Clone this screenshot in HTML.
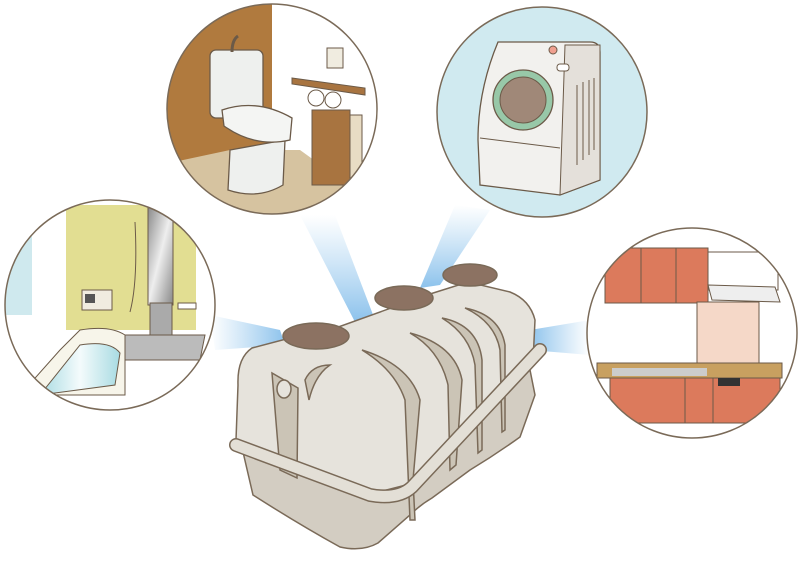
<!DOCTYPE html>
<html><head><meta charset="utf-8"><style>html,body{margin:0;padding:0;background:#fff}svg{display:block}</style></head>
<body>
<svg width="800" height="561" viewBox="0 0 800 561" xmlns="http://www.w3.org/2000/svg">
<defs>
<linearGradient id="b1" x1="0" y1="0" x2="1" y2="0"><stop offset="0" stop-color="#9ccbee" stop-opacity="0"/><stop offset="1" stop-color="#8cc2ec"/></linearGradient>
<linearGradient id="b2" x1="0" y1="0" x2="0" y2="1"><stop offset="0" stop-color="#9ccbee" stop-opacity="0"/><stop offset="1" stop-color="#8cc2ec"/></linearGradient>
<linearGradient id="b3" x1="1" y1="0" x2="0" y2="0"><stop offset="0" stop-color="#9ccbee" stop-opacity="0"/><stop offset="1" stop-color="#8cc2ec"/></linearGradient>
<linearGradient id="tub" x1="0" y1="0" x2="1" y2="0"><stop offset="0" stop-color="#a8dbe2"/><stop offset="0.5" stop-color="#f4fbfc"/><stop offset="1" stop-color="#a8dbe2"/></linearGradient>
<linearGradient id="mir" x1="0" y1="0" x2="1" y2="1"><stop offset="0" stop-color="#888"/><stop offset="0.5" stop-color="#eee"/><stop offset="1" stop-color="#888"/></linearGradient>
<clipPath id="cT"><circle cx="272" cy="109" r="105"/></clipPath>
<clipPath id="cB"><circle cx="110" cy="305" r="105"/></clipPath>
<clipPath id="cK"><circle cx="692" cy="333" r="105"/></clipPath>
</defs>
<polygon points="210,315 215,350 285,345 280,330" fill="url(#b1)"/>
<polygon points="300,215 335,215 375,320 355,322" fill="url(#b2)"/>
<polygon points="455,205 490,210 440,285 420,288" fill="url(#b2)"/>
<polygon points="590,320 590,355 530,350 530,330" fill="url(#b3)"/>

<g clip-path="url(#cT)">
<rect x="160" y="0" width="230" height="220" fill="#fff"/>
<rect x="160" y="0" width="112" height="170" fill="#b07a3e"/>
<polygon points="160,165 230,150 300,150 390,215 160,220" fill="#d6c3a0"/>
<polygon points="272,0 272,150 240,158" fill="#b07a3e"/>
<rect x="210" y="50" width="53" height="68" rx="6" fill="#eef0ee" stroke="#6b5a48" stroke-width="1.3"/>
<path d="M232 52 q0-12 6-16" stroke="#6b5a48" stroke-width="3" fill="none"/>
<path d="M230 150 L228 190 q30 10 55 -5 L285 140 Z" fill="#eef0ee" stroke="#6b5a48" stroke-width="1.3"/>
<path d="M222 110 q35-12 70 8 l-2 22 q-35 8 -66 -14 z" fill="#f4f5f3" stroke="#6b5a48" stroke-width="1.3"/>
<rect x="327" y="48" width="16" height="20" fill="#f0ece0" stroke="#6b5a48"/>
<polygon points="292,78 365,88 365,95 292,84" fill="#a87440" stroke="#6b5a48"/>
<circle cx="316" cy="98" r="8" fill="#fff" stroke="#6b5a48"/><circle cx="333" cy="100" r="8" fill="#fff" stroke="#6b5a48"/>
<rect x="312" y="110" width="38" height="75" fill="#a87440" stroke="#6b5a48"/>
<rect x="350" y="115" width="12" height="65" fill="#e8dcc4" stroke="#6b5a48"/>
</g>
<circle cx="272" cy="109" r="105" fill="none" stroke="#7a6a58" stroke-width="1.5"/>

<circle cx="542" cy="112" r="105" fill="#d0eaf0" stroke="#7a6a58" stroke-width="1.5"/>
<path d="M498 42 L590 42 q10 0 10 10 L600 180 L560 195 L480 185 L478 140 q0-50 20-98 z" fill="#f2f1ee" stroke="#6b5a48" stroke-width="1.3"/>
<path d="M565 45 L600 45 L600 180 L560 195 Z" fill="#e4e0da" stroke="#6b5a48" stroke-width="1"/>
<line x1="480" y1="138" x2="560" y2="148" stroke="#6b5a48"/>
<circle cx="523" cy="100" r="30" fill="#98c8a8" stroke="#6b5a48" stroke-width="1.3"/>
<circle cx="523" cy="100" r="23" fill="#a08878" stroke="#6b5a48"/>
<circle cx="553" cy="50" r="4" fill="#f0a090" stroke="#6b5a48"/>
<rect x="557" y="64" width="12" height="7" rx="3" fill="#fff" stroke="#6b5a48"/>
<g stroke="#6b5a48"><line x1="577" y1="85" x2="577" y2="165"/><line x1="583" y1="82" x2="583" y2="160"/><line x1="589" y1="80" x2="589" y2="155"/><line x1="594" y1="78" x2="594" y2="150"/></g>

<g clip-path="url(#cB)">
<rect x="0" y="195" width="220" height="220" fill="#fff"/>
<rect x="66" y="205" width="130" height="125" fill="#e2de92"/>
<rect x="148" y="205" width="25" height="100" fill="url(#mir)" stroke="#6b5a48"/>
<rect x="150" y="303" width="22" height="33" fill="#aaa" stroke="#6b5a48"/>
<rect x="82" y="290" width="30" height="20" fill="#f0ece0" stroke="#6b5a48"/>
<rect x="85" y="294" width="10" height="9" fill="#555"/>
<rect x="178" y="303" width="18" height="6" fill="#fff" stroke="#6b5a48"/>
<rect x="0" y="230" width="32" height="85" fill="#cfe9ee"/>
<polygon points="125,335 205,335 200,360 125,360" fill="#bbb" stroke="#6b5a48"/>
<path d="M20 395 L60 350 L80 330 q30-5 45 5 L125 395 Z" fill="#f7f5ea" stroke="#6b5a48"/>
<path d="M40 395 L80 345 q30-5 40 8 L115 385 Z" fill="url(#tub)" stroke="#6b5a48"/>
<path d="M135 222 q3 60 -5 90" stroke="#6b5a48" fill="none"/>
</g>
<circle cx="110" cy="305" r="105" fill="none" stroke="#7a6a58" stroke-width="1.5"/>

<g clip-path="url(#cK)">
<rect x="580" y="225" width="220" height="220" fill="#fff"/>
<g fill="#dc7a5c" stroke="#6b5a48"><rect x="605" y="248" width="36" height="55"/><rect x="641" y="248" width="35" height="55"/><rect x="676" y="248" width="32" height="55"/></g>
<rect x="708" y="252" width="70" height="38" fill="#fff" stroke="#6b5a48"/>
<polygon points="708,285 775,287 780,302 712,300" fill="#eee" stroke="#6b5a48"/>
<rect x="697" y="302" width="62" height="63" fill="#f5d8c8" stroke="#6b5a48"/>
<rect x="597" y="363" width="185" height="15" fill="#c8a060" stroke="#6b5a48"/>
<rect x="612" y="368" width="95" height="8" fill="#ccc"/>
<g fill="#dc7a5c" stroke="#6b5a48"><rect x="610" y="378" width="75" height="45"/><rect x="685" y="378" width="28" height="45"/><rect x="713" y="378" width="67" height="45"/></g>
<rect x="718" y="378" width="22" height="8" fill="#333"/>
</g>
<circle cx="692" cy="333" r="105" fill="none" stroke="#7a6a58" stroke-width="1.5"/>

<g stroke="#7a6a58" stroke-width="1.5">
<path d="M243 452 L253 495 Q300 525 340 547 Q362 552 378 543 L410 515 Q420 505 432 498 L470 470 Q495 455 520 437 L535 395 L530 370 Z" fill="#d3cdc2"/>
<path d="M252 348 Q237 358 238 385 L236 440 L375 493 L410 484 L533 362 L535 320 Q530 300 510 292 L468 282 L430 294 L330 330 L290 338 Z" fill="#e6e3dc"/>
<path d="M272 373 L280 470 L297 478 L298 388 Z" fill="#cbc4b6"/>
<ellipse cx="284" cy="389" rx="7" ry="9" fill="#e6e3dc"/>
<path d="M305 380 Q312 365 330 365 Q315 375 309 400 Z" fill="#cbc4b6"/>
<path d="M362 350 Q410 365 420 400 L413 480 L415 520 L410 520 L405 400 Q395 370 362 350 Z" fill="#cbc4b6"/>
<path d="M410 333 Q455 345 462 380 L456 465 L450 470 L448 385 Q440 350 410 333 Z" fill="#cbc4b6"/>
<path d="M442 318 Q478 325 482 360 L482 450 L478 453 L475 365 Q470 335 442 318 Z" fill="#cbc4b6"/>
<path d="M465 308 Q500 315 505 345 L505 430 L502 432 L500 350 Q495 322 465 308 Z" fill="#cbc4b6"/>
</g>
<path d="M236 445 L370 495 Q398 500 412 487 L540 350" fill="none" stroke="#7a6a58" stroke-width="14" stroke-linecap="round" stroke-linejoin="round"/>
<path d="M236 445 L370 495 Q398 500 412 487 L540 350" fill="none" stroke="#e3dfd6" stroke-width="11" stroke-linecap="round" stroke-linejoin="round"/>
<g stroke="#7a6a58" stroke-width="1.5">
<ellipse cx="316" cy="336" rx="33" ry="13" fill="#8c7262"/>
<ellipse cx="404" cy="298" rx="29" ry="12" fill="#8c7262"/>
<ellipse cx="470" cy="275" rx="27" ry="11" fill="#8c7262"/>
</g>
</svg>
</body></html>
